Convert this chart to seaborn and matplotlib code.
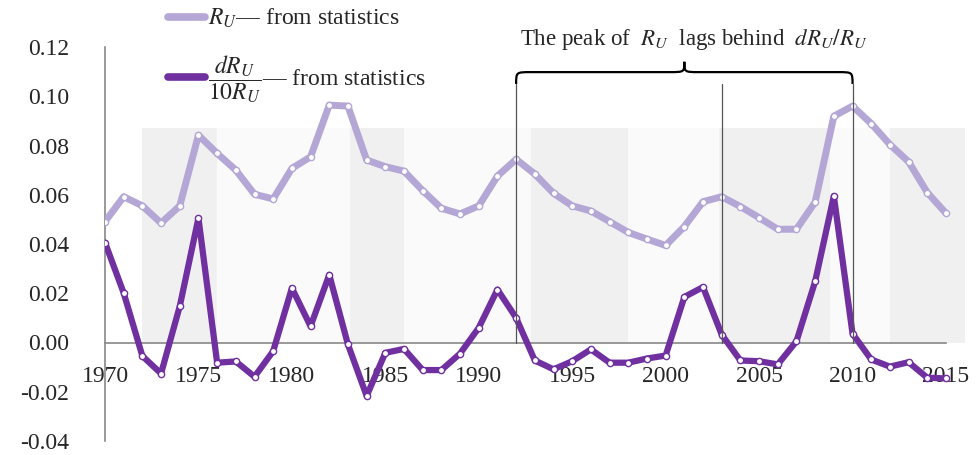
import numpy as np
import pandas as pd
import matplotlib
matplotlib.use("Agg")
import matplotlib.pyplot as plt
from matplotlib.path import Path
from matplotlib.patches import PathPatch
import seaborn as sns

# ---------------- data ----------------
years = list(range(1970, 2016))
ru = [0.0491, 0.0592, 0.0555, 0.0485, 0.0555, 0.0842, 0.0768, 0.0700, 0.0602, 0.0583,
      0.0707, 0.0754, 0.0964, 0.0960, 0.0741, 0.0714, 0.0696, 0.0617, 0.0545, 0.0522,
      0.0555, 0.0676, 0.0744, 0.0684, 0.0606, 0.0555, 0.0534, 0.0491, 0.0447, 0.0420,
      0.0394, 0.0471, 0.0572, 0.0592, 0.0552, 0.0507, 0.0460, 0.0460, 0.0570, 0.0919,
      0.0960, 0.0889, 0.0804, 0.0734, 0.0609, 0.0525]
dru = [0.0406, 0.0201, -0.0055, -0.0126, 0.0147, 0.0505, -0.0082, -0.0077, -0.0139, -0.0035,
       0.0221, 0.0066, 0.0275, -0.0008, -0.0217, -0.0042, -0.0026, -0.0112, -0.0112, -0.0045,
       0.0060, 0.0215, 0.0100, -0.0073, -0.0109, -0.0076, -0.0028, -0.0082, -0.0082, -0.0065,
       -0.0053, 0.0185, 0.0225, 0.0032, -0.0073, -0.0076, -0.0089, 0.0005, 0.0248, 0.0595,
       0.0036, -0.0069, -0.0098, -0.0080, -0.0143, -0.0146]
x_ticks = list(range(1970, 2016, 5))
y_ticks = [-0.04, -0.02, 0.00, 0.02, 0.04, 0.06, 0.08, 0.10, 0.12]
# shaded periods (start, end): darker and lighter bands
dark_bands = [(1972, 1976), (1983.1, 1986), (1992.8, 1998), (2002.85, 2008.8), (2012, 2016)]
light_bands = [(1976, 1983.1), (1986, 1992.8), (1998, 2002.85), (2008.8, 2012)]
band_top = 0.087
lag_years = [1992, 2003, 2010]
lag_top = 0.105
label_ru = r"$R_U$— from statistics"
label_dru = r"$\dfrac{dR_U}{10R_U}$— from statistics"
annot = r"The peak of  $R_U$  lags behind  $dR_U/R_U$"

df = pd.DataFrame({"year": years, "ru": ru, "dru": dru})

# ---------------- style ----------------
sns.set_style("white")
plt.rcParams["font.family"] = ["Liberation Serif", "DejaVu Serif"]
plt.rcParams["mathtext.fontset"] = "stix"
plt.rcParams["axes.unicode_minus"] = False

light_c = "#b4a7d6"
dark_c = "#7030a0"

fig = plt.figure(figsize=(9.78, 4.55), dpi=100)
ax = fig.add_axes([105 / 978, 14 / 455, 869 / 978, 394 / 455])
ax.set_xlim(1970, 2016.5)
ax.set_ylim(-0.04, 0.12)

ylo, yhi = ax.get_ylim()
def yfrac(v):
    return (v - ylo) / (yhi - ylo)

for a, b in dark_bands:
    ax.axvspan(a, b, ymin=yfrac(0), ymax=yfrac(band_top), color="#f0f0f0", lw=0, zorder=0)
for a, b in light_bands:
    ax.axvspan(a, b, ymin=yfrac(0), ymax=yfrac(band_top), color="#fafafa", lw=0, zorder=0)

mk = dict(marker="o", markersize=4.5, markerfacecolor="white", markeredgewidth=1.0)
sns.lineplot(data=df, x="year", y="ru", ax=ax, color=light_c, lw=5, label=label_ru,
             markeredgecolor=light_c, zorder=3, **mk)
sns.lineplot(data=df, x="year", y="dru", ax=ax, color=dark_c, lw=4.5, label=label_dru,
             markeredgecolor=dark_c, zorder=4, **mk)

# vertical lag lines
for yr in lag_years:
    ax.plot([yr, yr], [0, lag_top], color="#555555", lw=0.9, zorder=5)

# curly brace between first and last lag lines
x0, x1 = lag_years[0], lag_years[-1]
xm = (x0 + x1) / 2
yb, ym, yt = lag_top, 0.1098, 0.1140
dx = 0.8
verts = [(x0, yb),
         (x0, ym), (x0, ym), (x0 + dx, ym),
         (xm - dx, ym),
         (xm, ym), (xm, ym), (xm, yt),
         (xm, ym), (xm, ym), (xm + dx, ym),
         (x1 - dx, ym),
         (x1, ym), (x1, ym), (x1, yb)]
codes = [Path.MOVETO,
         Path.CURVE4, Path.CURVE4, Path.CURVE4,
         Path.LINETO,
         Path.CURVE4, Path.CURVE4, Path.CURVE4,
         Path.CURVE4, Path.CURVE4, Path.CURVE4,
         Path.LINETO,
         Path.CURVE4, Path.CURVE4, Path.CURVE4]
ax.add_patch(PathPatch(Path(verts, codes), fill=False, lw=1.6, edgecolor="black",
                       zorder=5, clip_on=False))
ax.text(xm + 0.5, 0.1232, annot, ha="center", va="center", fontsize=16.5, clip_on=False)

# axes / spines
for s in ["top", "right"]:
    ax.spines[s].set_visible(False)
ax.spines["left"].set_color("#888888")
ax.spines["left"].set_linewidth(1.2)
ax.spines["bottom"].set_position(("data", 0))
ax.spines["bottom"].set_bounds(1970, 2015)
ax.spines["bottom"].set_color("#888888")
ax.spines["bottom"].set_linewidth(1.2)

ax.set_xticks(x_ticks)
ax.set_xticklabels([str(t) for t in x_ticks])
ax.set_yticks(y_ticks)
ax.set_yticklabels([f"{v:.2f}" for v in y_ticks])
ax.tick_params(axis="x", length=0, pad=17, labelsize=17)
ax.tick_params(axis="y", length=0, pad=26, labelsize=17)
ax.set_xlabel("")
ax.set_ylabel("")

leg = ax.legend(loc="upper left", bbox_to_anchor=(168 / 978, 1.0 - 7 / 455), bbox_transform=fig.transFigure,
                frameon=False, fontsize=17, handlelength=1.55, handletextpad=0.15,
                labelspacing=0.95, borderpad=0, borderaxespad=0)
for h in leg.legend_handles:
    h.set_marker("")
    h.set_linewidth(5.5)

fig.savefig("out.png", dpi=100)
